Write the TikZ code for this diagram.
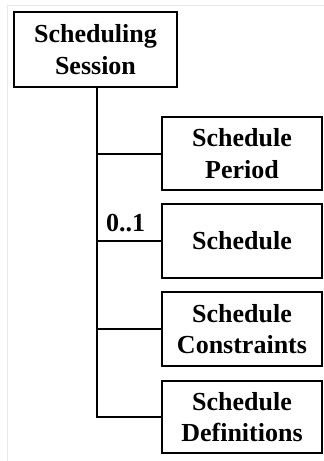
\documentclass[tikz,border=0pt]{standalone}
\usepackage{fontspec}
\setmainfont{Liberation Serif}
\begin{document}
\begin{tikzpicture}[x=1pt,y=-1pt,
  box/.style={draw=black, line width=2pt, inner sep=0pt, align=center,
    font=\fontsize{26}{31.5}\selectfont\bfseries},
  conn/.style={draw=black, line width=2pt},
  lbl/.style={inner sep=0pt, anchor=base west, font=\fontsize{26}{31.5}\selectfont\bfseries}]
\useasboundingbox (0,0) rectangle (324,461);
\draw[gray!18, line width=1pt] (7,461) -- (7,5) -- (324,5);
\node[box, line width=2.5pt, minimum width=163pt, minimum height=75pt] (ss) at (95.5,49.5) {Scheduling\\Session};
\node[box, minimum width=160pt, minimum height=73pt] (c1) at (242,153.5) {Schedule\\Period};
\node[box, minimum width=160pt, minimum height=74pt] (c2) at (242,241) {Schedule};
\node[box, minimum width=160pt, minimum height=74pt] (c3) at (242,329) {Schedule\\Constraints};
\node[box, minimum width=160pt, minimum height=72pt] (c4) at (242,417) {Schedule\\Definitions};
\coordinate (trunk) at (96.5,0);
\draw[conn] (trunk |- ss.south) |- (c4.west);
\draw[conn] (trunk |- c1.west) -- (c1.west);
\draw[conn] (trunk |- c2.west) -- (c2.west);
\draw[conn] (trunk |- c3.west) -- (c3.west);
\node[lbl] (m) at (106,231) {0..1};
\end{tikzpicture}
\end{document}
